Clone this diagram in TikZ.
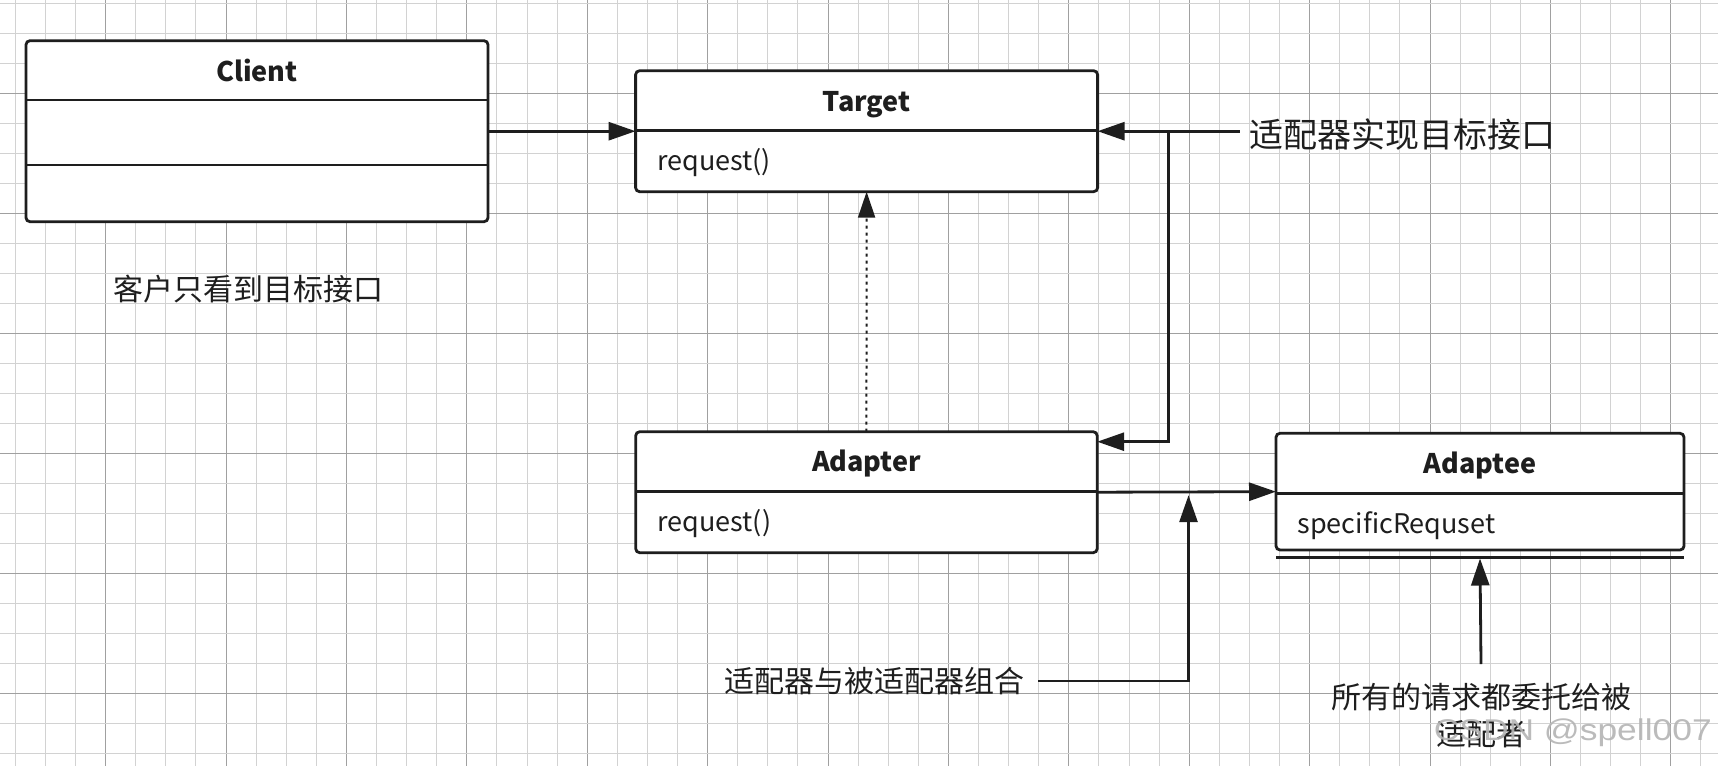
\documentclass[tikz,border=0pt]{standalone}
\usepackage{fontspec}
\setmainfont{Noto Sans CJK SC}
\newfontfamily\wmfont{Liberation Sans}
\usetikzlibrary{arrows.meta,calc}
\definecolor{ink}{HTML}{1E1E1E}
\definecolor{gminor}{HTML}{D2D2D2}
\definecolor{gmajor}{HTML}{A0A0A0}
\definecolor{wmc}{HTML}{B4B4B4}
\tikzset{
 classbox/.style={draw=ink, fill=white, line width=2.8pt, rounded corners=4pt, anchor=north west, inner sep=0pt, outer sep=0pt},
 divider/.style={draw=ink, line width=2.8pt},
 ctitle/.style={font=\fontsize{27}{30}\selectfont\bfseries, text=ink, inner sep=0pt, anchor=base},
 member/.style={font=\fontsize{27}{30}\selectfont, text=ink, inner sep=0pt, anchor=base west},
 note/.style={font=\fontsize{30}{37}\selectfont, text=ink, inner sep=0pt, align=center},
 bignote/.style={font=\fontsize{34}{40}\selectfont, text=ink, inner sep=0pt},
 conn/.style={draw=ink, line width=2.8pt},
 arr/.style={conn, -{Triangle[length=27pt,width=18pt]}},
 dotarr/.style={draw=ink, line width=2pt, dash pattern=on 3pt off 4pt, -{Triangle[length=26pt,width=17pt]}},
 gridminor/.style={draw=gminor, line width=1pt},
 gridmajor/.style={draw=gmajor, line width=1pt},
 wmark/.style={font=\wmfont\fontsize{30}{34}\selectfont, text=wmc, inner sep=0pt, xscale=1.18, opacity=0.9},
}
\begin{document}
\begin{tikzpicture}[x=1pt,y=-1pt]
\fill[white] (0,0) rectangle (1718,766);
\useasboundingbox (0,0) rectangle (1718,766);
% grid
\foreach \i in {0,...,56}{
  \pgfmathtruncatemacro\m{mod(\i,4)}
  \ifnum\m=3 \def\gs{gridmajor}\else\def\gs{gridminor}\fi
  \draw[\gs] ({15.3+30.1*\i},0) -- ({15.3+30.1*\i},766);
}
\foreach \j in {0,...,25}{
  \pgfmathtruncatemacro\m{mod(\j,4)}
  \ifnum\m=3 \def\gs{gridmajor}\else\def\gs{gridminor}\fi
  \draw[\gs] (0,{3.3+30*\j}) -- (1718,{3.3+30*\j});
}
% Client
\node[classbox, minimum width=462pt, minimum height=181pt] (client) at (26,40.7) {};
\draw[divider] ($(client.north west)+(0,59.3)$) -- ($(client.north east)+(0,59.3)$);
\draw[divider] ($(client.north west)+(0,124.3)$) -- ($(client.north east)+(0,124.3)$);
\node[ctitle] (clientT) at ($(client.north)+(0,40.5)$) {Client};
\node[note, anchor=west] (cap) at (113,289) {客户只看到目标接口};
% Target
\node[classbox, minimum width=462pt, minimum height=121pt] (target) at (635.6,70.7) {};
\draw[divider] ($(target.north west)+(0,60)$) -- ($(target.north east)+(0,60)$);
\node[ctitle] (targetT) at ($(target.north)+(0,40.5)$) {Target};
\node[member] (targetM) at ($(target.north west)+(21.5,100)$) {request()};
% Adapter
\node[classbox, minimum width=461.5pt, minimum height=121pt] (adapter) at (635.7,431.7) {};
\draw[divider] ($(adapter.north west)+(0,60)$) -- ($(adapter.north east)+(0,60)$);
\node[ctitle] (adapterT) at ($(adapter.north)+(0,40)$) {Adapter};
\node[member] (adapterM) at ($(adapter.north west)+(21.5,100)$) {request()};
% Adaptee
\node[classbox, minimum width=408pt, minimum height=116.7pt] (adaptee) at (1276,433.3) {};
\draw[divider] ($(adaptee.north west)+(0,60.5)$) -- ($(adaptee.north east)+(0,60.5)$);
\draw[divider] ($(adaptee.south west)+(0,7.3)$) -- ($(adaptee.south east)+(0,7.3)$);
\node[ctitle] (adapteeT) at ($(adaptee.north)+(0,40)$) {Adaptee};
\node[member] (adapteeM) at ($(adaptee.north west)+(21.3,100)$) {specificRequset};
% labels
\coordinate (lbl1start) at ($(target.east)+(142,0)$);
\node[bignote, anchor=west] (lbl1) at ($(lbl1start)+(10,3)$) {适配器实现目标接口};
\node[note, anchor=east] (lbl2) at (1024.6,681) {适配器与被适配器组合};
\node[note, anchor=north] (lbl3) at (1481,683) {所有的请求都委托给被\\适配者};
% connectors
\draw[arr] (client.east) -- (target.west);
\draw[arr] (lbl1start) -- (target.east);
\coordinate (j1) at ($(target.east)+(71,0)$);
\draw[arr] (j1) |- ($(adapter.north east)+(0,10)$);
\draw[dotarr] (adapter.north) -- (target.south);
\draw[arr] (adapter.east) -- (adaptee.west);
\coordinate (j2) at ($(adapter.east)+(91.3,3)$);
\draw[arr] ($(lbl2.east)+(13.7,0)$) -| (j2);
\draw[arr] ($(lbl3.north)+(0,-19)$) -- ($(adaptee.south)+(0,8.5)$);
% watermark
\node[wmark, anchor=east] (wmk) at (1712,733) {CSDN @spell007};
\end{tikzpicture}
\end{document}
